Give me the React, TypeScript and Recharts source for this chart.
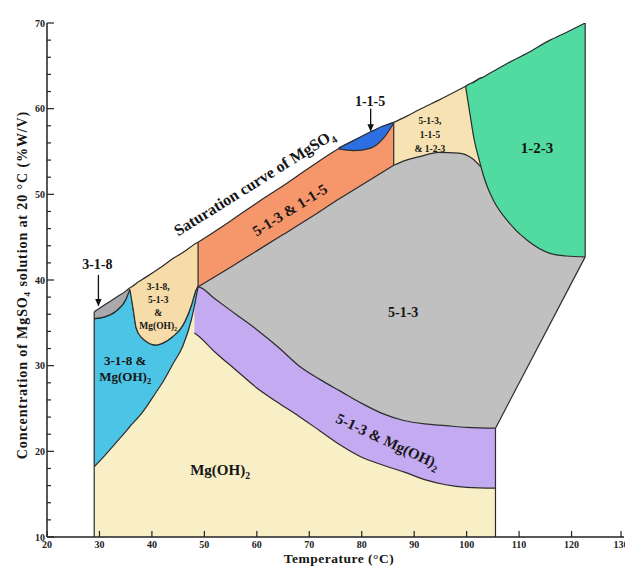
import React from "react";
import {
  ComposedChart,
  Area,
  XAxis,
  YAxis,
  ReferenceLine,
  ReferenceDot,
} from "recharts";

// every row: temperature (°C), lower and upper concentration (%W/V) of a phase field
type Row = [number, number, number];

const field318: Row[] = [
  [29, 35.5, 36.3], [31, 35.7, 37.1], [33, 36.3, 37.9], [35, 37.7, 38.7], [35.8, 38.9, 39.1],
];

const fieldBubble: Row[] = [
  [35.8, 38.9, 39.1], [36.4, 36.7, 39.3], [37, 34.4, 39.6], [38, 33.3, 40.0], [40.8, 32.4, 41.1],
  [42, 32.6, 41.6], [44, 33.4, 42.5], [45.9, 34.7, 43.2], [47.5, 37.0, 43.9], [48.4, 38.8, 44.3],
  [48.8, 39.3, 44.4],
];

const field318Mg: Row[] = [
  [29, 18.2, 35.5], [31, 19.5, 35.7], [33, 20.9, 36.3], [35, 22.3, 37.7], [35.8, 22.9, 38.9],
  [36.4, 23.3, 36.7], [37, 23.7, 34.4], [38, 24.4, 33.3], [40.8, 26.9, 32.4], [42, 28.0, 32.6],
  [44, 30.2, 33.4], [45.9, 32.3, 34.7], [47.5, 35.3, 37.0], [48.4, 37.9, 38.8], [48.8, 39.2, 39.3],
];

const fieldMg: Row[] = [
  [29, 10, 18.6], [31, 10, 19.9], [33, 10, 21.3], [35, 10, 22.7], [38, 10, 24.8], [40.8, 10, 27.3],
  [42, 10, 28.4], [44, 10, 30.6], [45.9, 10, 32.7], [47.5, 10, 35.7], [48.1, 10, 37.1],
  [52, 10, 32.0], [56, 10, 29.9], [60, 10, 27.8], [64, 10, 26.1], [68, 10, 24.5], [72, 10, 22.8],
  [76, 10, 21.1], [80, 10, 19.7], [84, 10, 18.8], [88, 10, 18.0], [92, 10, 17.1], [96, 10, 16.5],
  [100, 10, 16.2], [105.5, 10, 16.1],
];

const field513Mg: Row[] = [
  [48.1, 33.8, 37.1], [48.8, 33.5, 39.2], [52, 31.6, 37.8], [56, 29.5, 36.0], [60, 27.4, 34.2],
  [64, 25.7, 32.2], [68, 24.1, 30.0], [72, 22.4, 28.4], [76, 20.7, 27.0], [80, 19.3, 25.6],
  [84, 18.4, 24.4], [88, 17.6, 23.6], [92, 16.7, 23.2], [96, 16.1, 23.0], [100, 15.8, 22.8],
  [105.5, 15.7, 22.7],
];

const field513: Row[] = [
  [48.8, 38.7, 39.7], [52, 37.3, 40.9], [56, 35.5, 42.4], [60, 33.7, 44.0], [64, 31.7, 45.5],
  [68, 29.5, 47.0], [72, 27.9, 48.6], [76, 26.5, 50.1], [80, 25.1, 51.6], [84, 23.9, 53.1],
  [86.1, 23.4, 54.0], [90, 22.9, 54.8], [95, 22.6, 55.4], [100, 22.3, 55.1], [102.7, 22.3, 54.0],
  [105.5, 22.7, 49.5], [108, 25.6, 47.3], [112, 30.3, 45.0], [116, 35.0, 43.6], [122.6, 42.7, 43.2],
];

const field513_115: Row[] = [
  [48.8, 39.2, 44.4], [55, 41.5, 46.9], [60, 43.4, 49.0], [65, 45.3, 51.0], [70, 47.2, 53.1],
  [75.8, 49.5, 55.4], [80, 51.1, 56.7], [86.1, 53.4, 58.4],
];

const field115: Row[] = [
  [75.6, 55.3, 55.4], [78.5, 55.1, 56.3], [81.7, 55.4, 57.3], [84.2, 56.6, 58.0], [86.1, 58.3, 58.4],
];

const fieldTriple: Row[] = [
  [86.1, 53.4, 58.4], [88.5, 54.0, 59.1], [91, 54.4, 59.9], [94.7, 54.9, 61.0], [98.5, 54.8, 62.2],
  [101, 54.2, 63.0], [102.7, 53.2, 63.6],
];

const field123: Row[] = [
  [99.8, 62.6, 62.6], [100.6, 59.5, 62.9], [101.4, 56.5, 63.1], [102.4, 54.0, 63.5], [103.2, 52.2, 63.7],
  [104, 50.8, 64.0], [105.2, 49.2, 64.4], [107.8, 46.9, 65.3], [111.6, 44.6, 66.5], [115.9, 43.1, 68.0],
  [119, 42.8, 68.9], [122.6, 42.7, 70.0],
];

// straight boundaries: [t1, c1, t2, c2]
const edges: [number, number, number, number][] = [
  [29, 10, 29, 36.3],
  [48.8, 39.2, 48.8, 44.4],
  [86.1, 53.4, 86.1, 58.4],
  [105.5, 10, 105.5, 22.7],
  [105.5, 22.7, 122.6, 42.7],
  [122.6, 42.7, 122.6, 70],
];
// arrows: temperature, start, tip
const arrows: [number, number, number][] = [
  [29.8, 40.6, 36.9],
  [81.7, 60.0, 57.3],
];

const xTicks = [20, 30, 40, 50, 60, 70, 80, 90, 100, 110, 120, 130];
const yTicks = [10, 12, 14, 16, 18, 20, 22, 24, 26, 28, 30, 32, 34, 36, 38, 40, 42, 44, 46, 48, 50, 52, 54, 56, 58, 60, 62, 64, 66, 68, 70];

const FONT = "'Liberation Serif', 'Times New Roman', serif";
const INK = "#2c2c2c";
const W = 625;
const H = 560;

const band = (rows: Row[]) => rows.map(([t, lo, hi]) => ({ t, r: [lo, hi] }));

function Tag({ cx, cy, lines, size = 14, angle = 0, gap = 0 }: any) {
  const n = lines.length;
  return (
    <text
      textAnchor="middle"
      fontFamily={FONT}
      fontWeight="bold"
      fontSize={size}
      fill="#151515"
      transform={angle ? `rotate(${angle}, ${cx}, ${cy})` : undefined}
    >
      {lines.map((ln: string, i: number) => {
        const [main, sub] = ln.split("_");
        return (
          <tspan key={i} x={cx} y={cy + (i - (n - 1) / 2) * gap + size * 0.35}>
            {main}
            {sub && (
              <tspan fontSize={size * 0.65} dy={size * 0.25}>
                {sub}
              </tspan>
            )}
          </tspan>
        );
      })}
    </text>
  );
}

function YTick({ x, y, payload }: any) {
  const major = payload.value % 10 === 0;
  return (
    <g>
      <line x1={x} x2={x + (major ? 7 : 4)} y1={y} y2={y} stroke="#222" strokeWidth={1.2} />
      {major && (
        <text x={x - 2} y={y + 3.5} textAnchor="end" fontSize={10} fontWeight="bold" fontFamily={FONT} fill="#222">
          {payload.value}
        </text>
      )}
    </g>
  );
}

function XTick({ x, y, payload }: any) {
  return (
    <g>
      <line x1={x} x2={x} y1={y} y2={y - 6} stroke="#222" strokeWidth={1.2} />
      <text x={x} y={y + 11} textAnchor="middle" fontSize={10} fontWeight="bold" fontFamily={FONT} fill="#222">
        {payload.value}
      </text>
    </g>
  );
}

const YTitle = () => (
  <text
    x={14}
    y={277}
    dy={4.5}
    textAnchor="middle"
    transform="rotate(-90, 14, 277)"
    fontFamily={FONT}
    fontWeight="bold"
    fontSize={14}
    letterSpacing={0.9}
    fill="#151515"
  >
    Concentration of MgSO<tspan fontSize={9} dy={3}>4</tspan>
    <tspan dy={-3}> solution at 20 °C (%W/V)</tspan>
  </text>
);

const XTitle = () => (
  <text x={331} y={555} textAnchor="middle" fontFamily={FONT} fontWeight="bold" fontSize={13.5} letterSpacing={0.5} fill="#151515">
    Temperature (°C)
  </text>
);

// unstroked background fields, painted in a chart underneath
const backFields: { rows: Row[]; fill: string }[] = [
  { rows: field513, fill: "#c0c0c0" },
  { rows: fieldMg, fill: "#f8efc6" },
];

const frontFields: { rows: Row[]; fill: string }[] = [
  { rows: field513Mg, fill: "#c4aaf1" },
  { rows: field318Mg, fill: "#4cc4e6" },
  { rows: field318, fill: "#a9a9ad" },
  { rows: fieldBubble, fill: "#f5dca8" },
  { rows: field513_115, fill: "#f6966b" },
  { rows: field115, fill: "#2d6fe2" },
  { rows: fieldTriple, fill: "#f6e2b2" },
  { rows: field123, fill: "#52dba1" },
];

const layer: React.CSSProperties = { position: "absolute", left: 0, top: 0 };

export default function App() {
  return (
    <div style={{ position: "relative", width: W, height: H }}>
      <div style={layer}>
        <ComposedChart width={W} height={H} margin={{ top: 15, right: 9, bottom: 31, left: 39 }}>
          <XAxis dataKey="t" type="number" domain={[20, 130]} allowDataOverflow hide />
          <YAxis type="number" domain={[10, 70]} allowDataOverflow hide />
          {backFields.map((f, i) => (
            <Area
              key={`b${i}`}
              data={band(f.rows)}
              dataKey="r"
              type="linear"
              fill={f.fill}
              fillOpacity={1}
              stroke="none"
              dot={false}
              activeDot={false}
              isAnimationActive={false}
            />
          ))}
        </ComposedChart>
      </div>
      <div style={layer}>
        <ComposedChart width={W} height={H} margin={{ top: 15, right: 9, bottom: 11, left: 11 }}>
          <XAxis
            dataKey="t"
            type="number"
            domain={[20, 130]}
            ticks={xTicks}
            allowDataOverflow
            height={20}
            tickSize={0}
            tickMargin={0}
            tickLine={false}
            tick={<XTick />}
            axisLine={{ stroke: "#222", strokeWidth: 1.5 }}
            label={<XTitle />}
          />
          <YAxis
            type="number"
            domain={[10, 70]}
            ticks={yTicks}
            allowDataOverflow
            width={28}
            tickSize={0}
            tickMargin={0}
            tickLine={false}
            tick={<YTick />}
            interval={0}
            axisLine={{ stroke: "#222", strokeWidth: 1.5 }}
            label={<YTitle />}
          />
          {frontFields.map((f, i) => (
            <Area
              key={`f${i}`}
              data={band(f.rows)}
              dataKey="r"
              type="monotone"
              fill={f.fill}
              fillOpacity={1}
              stroke={INK}
              strokeWidth={1.2}
              dot={false}
              activeDot={false}
              isAnimationActive={false}
            />
          ))}
          {edges.map(([t1, c1, t2, c2], i) => (
            <ReferenceLine
              key={`e${i}`}
              segment={[{ x: t1, y: c1 }, { x: t2, y: c2 }]}
              stroke={INK}
              strokeWidth={1.2}
              ifOverflow="visible"
            />
          ))}
          {arrows.map(([t, c1, tip], i) => (
            <ReferenceLine
              key={`a${i}`}
              segment={[{ x: t, y: c1 }, { x: t, y: tip + 0.7 }]}
              stroke="#111"
              strokeWidth={1.3}
              ifOverflow="visible"
            />
          ))}
          {arrows.map(([t, , tip], i) => (
            <ReferenceDot
              key={`h${i}`}
              x={t}
              y={tip}
              r={1}
              ifOverflow="visible"
              shape={(p: any) => (
                <polygon points={`${p.cx},${p.cy} ${p.cx - 3.2},${p.cy - 7.5} ${p.cx + 3.2},${p.cy - 7.5}`} fill="#111" />
              )}
            />
          ))}
          <ReferenceDot x={59.5} y={51.4} r={1} shape={(p: any) => <Tag cx={p.cx} cy={p.cy} lines={["Saturation curve of MgSO_4"]} size={16} angle={-32} />} />
          <ReferenceDot x={66.3} y={48.2} r={1} shape={(p: any) => <Tag cx={p.cx} cy={p.cy} lines={["5-1-3 & 1-1-5"]} size={15} angle={-32} />} />
          <ReferenceDot x={87.9} y={36.3} r={1} shape={(p: any) => <Tag cx={p.cx} cy={p.cy} lines={["5-1-3"]} size={14} />} />
          <ReferenceDot x={85.0} y={21.2} r={1} shape={(p: any) => <Tag cx={p.cx} cy={p.cy} lines={["5-1-3 & Mg(OH)_2"]} size={15} angle={25} />} />
          <ReferenceDot x={53.0} y={17.8} r={1} shape={(p: any) => <Tag cx={p.cx} cy={p.cy} lines={["Mg(OH)_2"]} size={15} />} />
          <ReferenceDot x={34.9} y={29.7} r={1} shape={(p: any) => <Tag cx={p.cx} cy={p.cy} lines={["3-1-8 &", "Mg(OH)_2"]} size={13} gap={16} />} />
          <ReferenceDot x={41.2} y={37.0} r={1} shape={(p: any) => <Tag cx={p.cx} cy={p.cy} lines={["3-1-8,", "5-1-3", "&", "Mg(OH)_2"]} size={9.5} gap={13} />} />
          <ReferenceDot x={93.0} y={57.0} r={1} shape={(p: any) => <Tag cx={p.cx} cy={p.cy} lines={["5-1-3,", "1-1-5", "& 1-2-3"]} size={9.5} gap={14} />} />
          <ReferenceDot x={113.4} y={55.4} r={1} shape={(p: any) => <Tag cx={p.cx} cy={p.cy} lines={["1-2-3"]} size={15} />} />
          <ReferenceDot x={29.6} y={41.8} r={1} ifOverflow="visible" shape={(p: any) => <Tag cx={p.cx} cy={p.cy} lines={["3-1-8"]} size={14} />} />
          <ReferenceDot x={81.6} y={60.9} r={1} ifOverflow="visible" shape={(p: any) => <Tag cx={p.cx} cy={p.cy} lines={["1-1-5"]} size={14} />} />
        </ComposedChart>
      </div>
    </div>
  );
}
